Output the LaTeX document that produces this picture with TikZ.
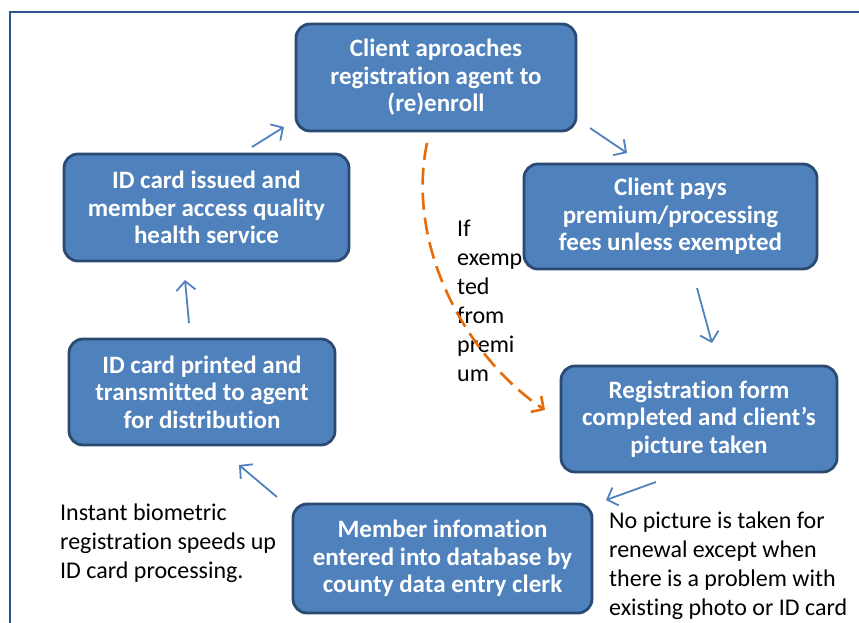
\documentclass[tikz,border=0pt]{standalone}
\usepackage{fontspec}
\setmainfont{Carlito}[RawFeature=-liga]
\usepackage{xcolor}
\usepackage{tikz}
\usetikzlibrary{arrows.meta}
\definecolor{boxblue}{HTML}{4F81BD}
\definecolor{boxedge}{HTML}{2A4A72}
\definecolor{dashorange}{HTML}{E46C0A}
\definecolor{framecol}{HTML}{2F5496}

\begin{document}
\begin{tikzpicture}[x=1pt,y=-1pt,
  box/.style={draw=boxedge,line width=2.8pt,fill=boxblue,rounded corners=14pt,
    text=white,font=\fontsize{25}{27.5}\selectfont\bfseries,align=center,inner sep=0pt},
  flow/.style={draw=boxblue,line width=1.8pt,-{Straight Barb[length=9pt,width=19pt]}},
  skip/.style={draw=dashorange,line width=2.6pt,dash pattern=on 17pt off 8pt,
    -{Straight Barb[length=9pt,width=19pt]}},
  note/.style={align=left,font=\fontsize{24}{29}\selectfont,inner sep=0pt}]
  \useasboundingbox (0,0) rectangle (859,623);
  % ── Frame ──────────────────────────────────────────
  \draw[framecol,line width=1.6pt] (10,623) -- (10,12) -- (859,12);
  % ── Boxes ──────────────────────────────────────────
  \node[box,minimum width=280,minimum height=107] (enroll)  at (436,77.5)  {Client aproaches\\registration agent to\\(re)enroll};
  \node[box,minimum width=293,minimum height=105] (pays)    at (670.5,216.5) {Client pays\\premium/processing\\fees unless exempted};
  \node[box,minimum width=276,minimum height=106] (form)    at (699,419)   {Registration form\\completed and client's\\picture taken};
  \node[box,minimum width=299,minimum height=109] (member)  at (442.5,558.5) {Member infomation\\entered into database by\\county data entry clerk};
  \node[box,minimum width=266,minimum height=106] (printed) at (202,392)   {ID card printed and\\transmitted to agent\\for distribution};
  \node[box,minimum width=285,minimum height=107] (issued)  at (206.5,207.5) {ID card issued and\\member access quality\\health service};
  % ── Notes ──────────────────────────────────────────
  \node[note,anchor=west] (exempt)  at (457,301) {If\\exemp\\ted\\from\\premi\\um};
  \node[note,anchor=west] (biom)    at (60,543)  {Instant biometric\\registration speeds up\\ID card processing.};
  \node[note,anchor=west] (renewal) at (609,566) {No picture is taken for\\renewal except when\\there is a problem with\\existing photo or ID card};
  % ── Arrow ends (gaps between boxes) ────────────────
  \coordinate (e1) at (590,128);  \coordinate (e2) at (627,153);
  \coordinate (p1) at (697,288);  \coordinate (p2) at (712,343);
  \coordinate (f1) at (656,482);  \coordinate (f2) at (606,500);
  \coordinate (m1) at (277,497);  \coordinate (m2) at (239,465);
  \coordinate (r1) at (189,323);  \coordinate (r2) at (185,280);
  \coordinate (i1) at (252,147);  \coordinate (i2) at (284,127);
  % ── Cycle arrows ───────────────────────────────────
  \draw[flow] (e1) -- (e2);
  \draw[flow] (p1) -- (p2);
  \draw[flow] (f1) -- (f2);
  \draw[flow] (m1) -- (m2);
  \draw[flow] (r1) -- (r2);
  \draw[flow] (i1) -- (i2);
  % exemption shortcut: enroll → form
  \coordinate (s1) at (427,143);
  \coordinate (s2) at (545,410);
  \draw[skip] (s1) .. controls (405,250) and (470,360) .. (s2);
\end{tikzpicture}
\end{document}
